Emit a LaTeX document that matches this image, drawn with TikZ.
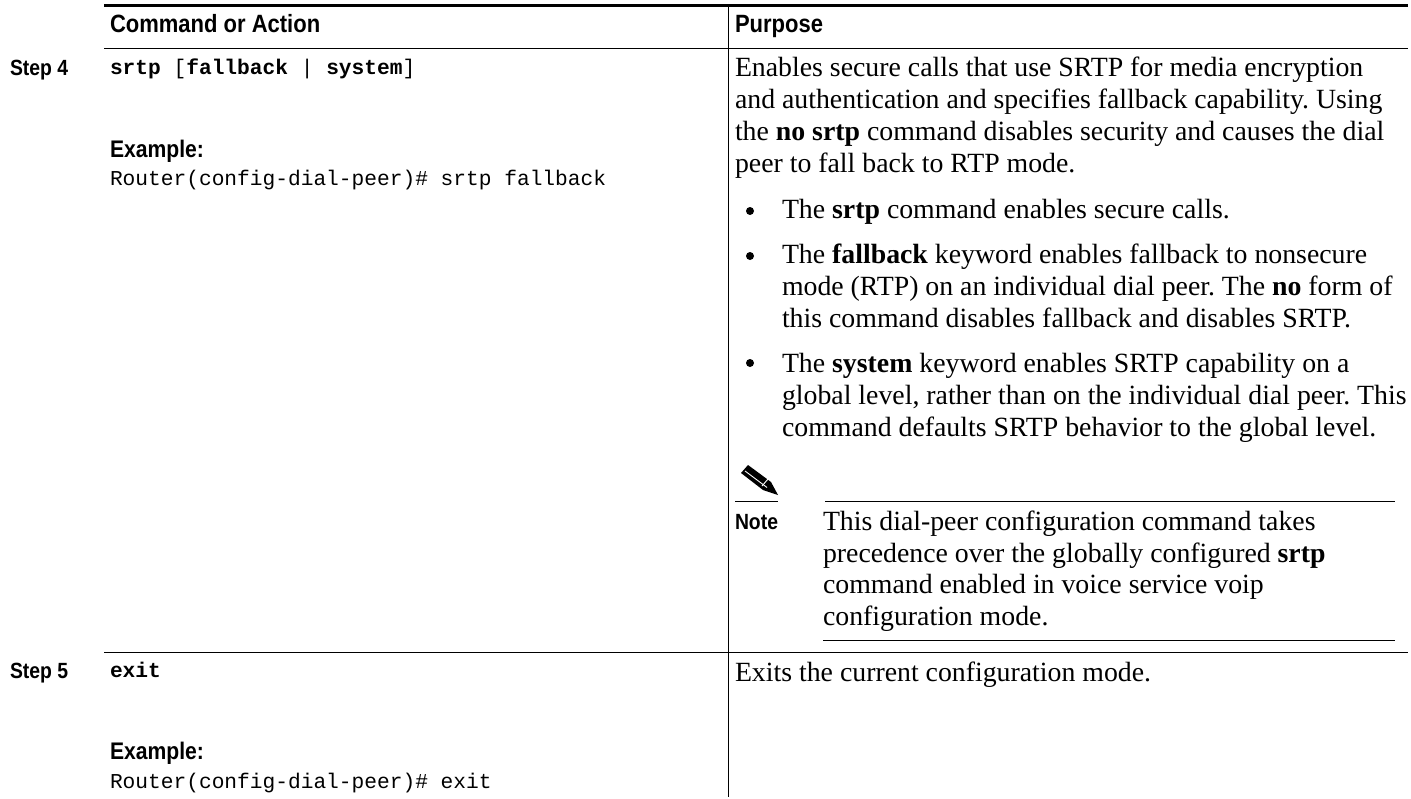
\documentclass[tikz,border=0pt]{standalone}
\usepackage{fontspec}
\setmainfont{Liberation Serif}
\newfontfamily\headf[FakeStretch=0.88]{Liberation Sans}
\newfontfamily\codef{Liberation Mono}
\tikzset{
 base/.style={anchor=base west,inner sep=0pt,outer sep=0pt},
 t/.style={base,font=\frenchspacing\fontsize{27.8}{32}\selectfont},
 hdr/.style={base,font=\headf\bfseries\fontsize{25}{28}\selectfont},
 ex/.style={base,font=\headf\bfseries\fontsize{24}{28}\selectfont},
 stp/.style={base,font=\headf\bfseries\fontsize{22}{26}\selectfont},
 c/.style={base,font=\codef\fontsize{21.2}{24}\selectfont},
 b/.style={base,font=\codef\bfseries\fontsize{21.2}{24}\selectfont},
 rule/.style={line width=1pt,black},
 dot/.style={circle,fill=black,inner sep=0pt,minimum size=8pt}
}
\begin{document}
\begin{tikzpicture}[x=1pt,y=-1pt]
\useasboundingbox (0,0) rectangle (1411,798);
\coordinate (a) at (104,5.7); \coordinate (b) at (1408,5.7);
\draw[line width=2.8pt] (a) -- (b);
\coordinate (a1) at (104,48); \coordinate (b1) at (1408,48);
\draw[rule] (a1) -- (b1);
\coordinate (a2) at (104,652); \coordinate (b2) at (1408,652);
\draw[rule] (a2) -- (b2);
\coordinate (v1) at (728,7); \coordinate (v2) at (728,797);
\draw[rule] (v1) -- (v2);
\node[hdr] (hc) at (110,32) {Command or Action};
\node[hdr] (hp) at (735,32) {Purpose};
\node[stp] (s4) at (10,75) {Step 4};
\node[ex] (e4) at (110,157) {Example:};
\node[stp] (s5) at (10,678) {Step 5};
\node[ex] (e5) at (110,759) {Example:};
\node[c] (l1) at (110,74) {\textbf{srtp} [\textbf{fallback} | \textbf{system}]};
\node[c] (l2) at (110,185) {Router(config-dial-peer)\# srtp fallback};
\node[b] (l3) at (110,677) {exit};
\node[c] (l4) at (110,788) {Router(config-dial-peer)\# exit};
\node[t] (p1) at (735,76.5) {Enables secure calls that use SRTP for media encryption};
\node[t] (p2) at (735,108.5) {and authentication and specifies fallback capability. Using};
\node[t] (p3) at (735,140.5) {the \textbf{no srtp} command disables security and causes the dial};
\node[t] (p4) at (735,172.5) {peer to fall back to RTP mode.};
\node[dot] (bu1) at (750,211) {};
\node[t] (q1) at (782,218.5) {The \textbf{srtp} command enables secure calls.};
\node[dot] (bu2) at (750,256) {};
\node[t] (q2) at (782,263.5) {The \textbf{fallback} keyword enables fallback to nonsecure};
\node[t] (q3) at (782,295.5) {mode (RTP) on an individual dial peer. The \textbf{no} form of};
\node[t] (q4) at (782,327.5) {this command disables fallback and disables SRTP.};
\node[dot] (bu3) at (750,363) {};
\node[t] (q5) at (782,372) {The \textbf{system} keyword enables SRTP capability on a};
\node[t] (q6) at (782,404) {global level, rather than on the individual dial peer. This};
\node[t] (q7) at (782,436) {command defaults SRTP behavior to the global level.};
\fill (741,473) -- (748,465) -- (771,482) -- (778,495) -- (763,490) -- cycle;
\draw[white,line width=0.9pt] (745,471) -- (767,487.5);
\draw[white,line width=0.9pt] (762,486) -- (768,479);
\coordinate (n5) at (735,501); \coordinate (n6) at (778,501);
\draw[rule] (n5) -- (n6);
\node[stp] (note) at (735,529) {Note};
\coordinate (n1) at (825,501); \coordinate (n2) at (1395,501);
\draw[rule] (n1) -- (n2);
\node[t] (r1) at (823,530.5) {This dial-peer configuration command takes};
\node[t] (r2) at (823,562) {precedence over the globally configured \textbf{srtp}};
\node[t] (r3) at (823,593.5) {command enabled in voice service voip};
\node[t] (r4) at (823,625) {configuration mode.};
\coordinate (n3) at (823,640); \coordinate (n4) at (1395,640);
\draw[rule] (n3) -- (n4);
\node[t] (x) at (735,681) {Exits the current configuration mode.};
\end{tikzpicture}
\end{document}
